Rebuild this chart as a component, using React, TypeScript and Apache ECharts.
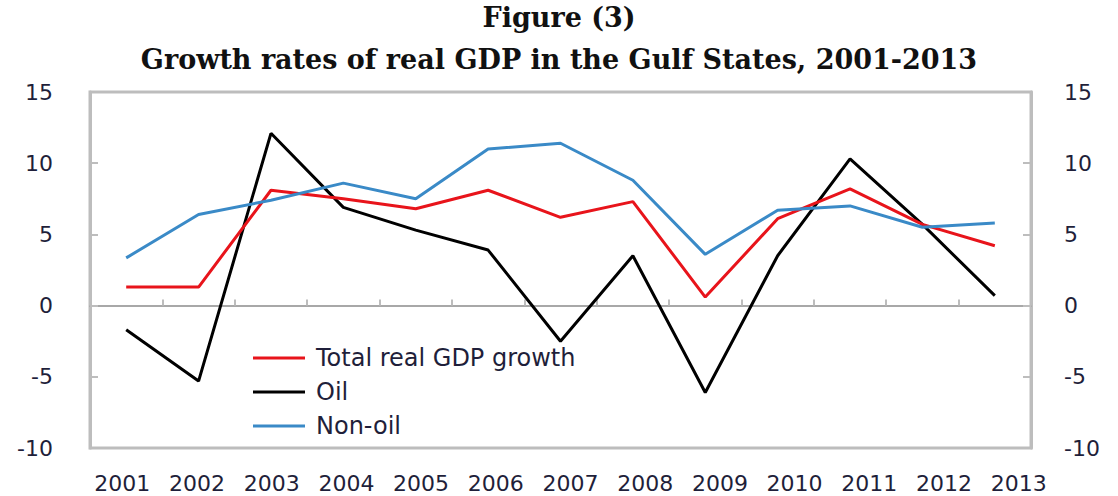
import React, { useEffect, useRef } from "react";
import * as echarts from "echarts";

const years = ["2001","2002","2003","2004","2005","2006","2007","2008","2009","2010","2011","2012","2013"];
const totalGdp = [1.3, 1.3, 8.1, 7.5, 6.8, 8.1, 6.2, 7.3, 0.6, 6.1, 8.2, 5.7, 4.2];
const oil = [-1.7, -5.3, 12.1, 6.9, 5.3, 3.9, -2.5, 3.5, -6.1, 3.5, 10.3, 5.7, 0.7];
const nonOil = [3.35, 6.4, 7.4, 8.6, 7.5, 11.0, 11.4, 8.8, 3.6, 6.7, 7.0, 5.5, 5.8];
const seriesNames = ["Total real GDP growth", "Oil", "Non-oil"];
const titleLine1 = "Figure (3)";
const titleLine2 = "Growth rates of real GDP in the Gulf States, 2001-2013";

export default function App() {
  const ref = useRef<HTMLDivElement>(null);
  useEffect(() => {
    if (!ref.current) return;
    const chart = echarts.init(ref.current, null, { renderer: "svg" });
    const font = "'DejaVu Sans', sans-serif";
    const labelColor = "#1f1f3a";
    const yAxisCommon = {
      type: "value",
      min: -10,
      max: 15,
      interval: 5,
      splitLine: { show: false },
      axisLine: { show: true, lineStyle: { color: "#bdbdbd", width: 3 } },
      axisTick: { show: true, inside: true, length: 8, lineStyle: { color: "#bdbdbd", width: 2 } },
      axisLabel: { color: labelColor, fontSize: 22, fontFamily: font, margin: 37 },
    };
    const titleStyle = { fontFamily: "'DejaVu Serif', serif", fontWeight: "bold", fontSize: 27, color: "#111" };
    chart.setOption({
      animation: false,
      backgroundColor: "#ffffff",
      title: [
        { text: titleLine1, left: "center", top: -1, textStyle: titleStyle },
        { text: titleLine2, left: "center", top: 41, textStyle: titleStyle },
      ],
      legend: {
        orient: "vertical",
        left: 248,
        top: 341,
        icon: "rect",
        itemWidth: 52,
        itemHeight: 3,
        itemGap: 10,
        data: seriesNames,
        textStyle: { fontFamily: font, fontSize: 24, color: labelColor, padding: [0, 0, 0, 6] },
      },
      grid: [
        { left: 90, right: 87, top: 92, bottom: 48, show: true, borderColor: "#bdbdbd", borderWidth: 3 },
        { left: 85, width: 971, top: 92, bottom: 48, show: false },
      ],
      xAxis: [
        {
          type: "category",
          gridIndex: 0,
          data: years,
          boundaryGap: true,
          axisLine: { show: true, onZero: true, lineStyle: { color: "#a8a8a8", width: 2 } },
          axisTick: { show: true, inside: true, length: 6, lineStyle: { color: "#bdbdbd", width: 2 } },
          axisLabel: { show: false },
        },
        {
          type: "category",
          gridIndex: 1,
          data: years,
          boundaryGap: true,
          position: "bottom",
          axisLine: { show: false, onZero: false },
          axisTick: { show: false },
          axisLabel: { color: labelColor, fontSize: 22, fontFamily: font, margin: 24, interval: 0 },
        },
      ],
      yAxis: [
        { ...yAxisCommon, gridIndex: 0, position: "left" },
        { ...yAxisCommon, gridIndex: 0, position: "right", axisLabel: { ...yAxisCommon.axisLabel, margin: 33 } },
        { type: "value", gridIndex: 1, min: -10, max: 15, show: false },
      ],
      series: [
        {
          name: seriesNames[0],
          type: "line",
          data: totalGdp,
          symbol: "none",
          color: "#e8141b",
          lineStyle: { width: 3, color: "#e8141b" },
          z: 3,
        },
        {
          name: seriesNames[1],
          type: "line",
          data: oil,
          symbol: "none",
          color: "#000000",
          lineStyle: { width: 3, color: "#000000" },
          z: 2,
        },
        {
          name: seriesNames[2],
          type: "line",
          data: nonOil,
          symbol: "none",
          color: "#3a8ac7",
          lineStyle: { width: 3, color: "#3a8ac7" },
          z: 4,
        },
      ],
    });
    return () => chart.dispose();
  }, []);
  return <div ref={ref} style={{ width: 1118, height: 496, position: "absolute", left: 0, top: 0 }} />;
}
